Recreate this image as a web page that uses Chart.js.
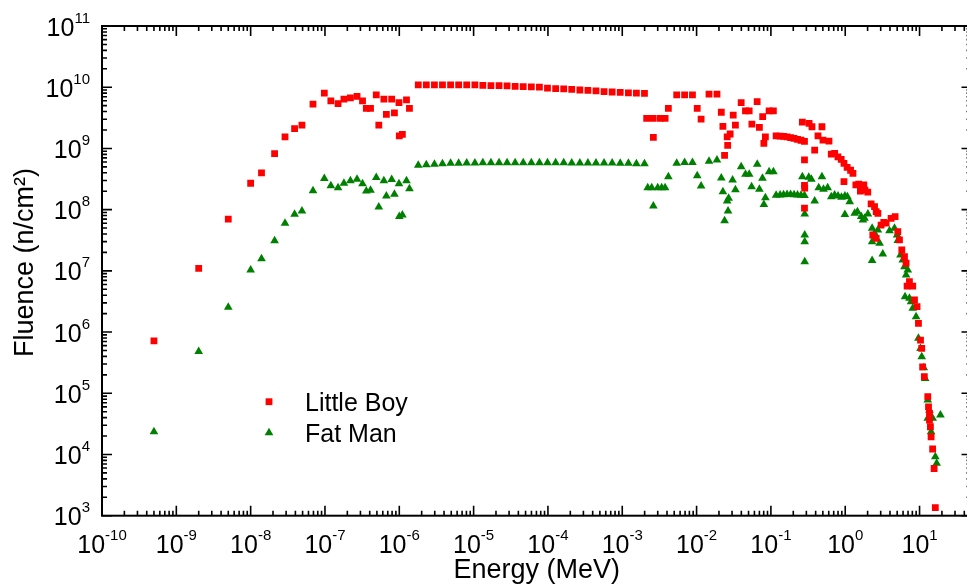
<!DOCTYPE html>
<html>
<head>
<meta charset="utf-8">
<script src="https://cdn.jsdelivr.net/npm/chart.js@4.4.1/dist/chart.umd.min.js"></script>
<style>
html,body{margin:0;padding:0;background:#fff;overflow:hidden;width:967px;height:584px;}
canvas{display:block;}
</style>
</head>
<body>
<canvas id="c" width="980" height="584"></canvas>
<script>
// ---------- data ----------
const seriesNames = ['Little Boy', 'Fat Man'];
const xTitle = 'Energy (MeV)';
const yTitle = 'Fluence (n/cm\u00B2)';
const xTickExponents = [-10, -9, -8, -7, -6, -5, -4, -3, -2, -1, 0, 1];
const yTickExponents = [3, 4, 5, 6, 7, 8, 9, 10, 11];

// Little Boy (MeV, n/cm2)
const lbEnergy = [
  5e-10, 2e-9, 5e-9, 1e-8, 1.4e-8, 2.1e-8, 2.9e-8, 3.9e-8, 4.9e-8, 6.9e-8,
  9.8e-8, 1.2e-7, 1.5e-7, 1.8e-7, 2.2e-7, 2.7e-7, 3.2e-7, 3.6e-7, 4.1e-7, 4.9e-7,
  5.3e-7, 6.2e-7, 6.7e-7, 7.9e-7, 8.6e-7, 9.9e-7, 1.0e-6, 1.1e-6, 1.25e-6, 1.37e-6,
  1.8e-6, 2.31e-6, 2.97e-6, 3.81e-6, 4.9e-6, 6.29e-6, 8.07e-6, 1.04e-5, 1.33e-5, 1.71e-5,
  2.2e-5, 2.82e-5, 3.62e-5, 4.65e-5, 5.98e-5, 7.68e-5, 9.86e-5, 1.27e-4, 1.63e-4, 2.09e-4,
  2.69e-4, 3.45e-4, 4.43e-4, 5.69e-4, 7.31e-4, 9.39e-4, 1.21e-3, 1.55e-3, 1.99e-3,
  2.13e-3, 2.6e-3, 2.62e-3, 3.23e-3, 3.77e-3, 4.17e-3, 5.4e-3, 6.9e-3, 8.8e-3,
  1.02e-2, 1.15e-2, 1.47e-2, 1.88e-2, 2.15e-2, 2.26e-2, 2.38e-2, 2.58e-2, 2.62e-2,
  2.83e-2, 3.11e-2, 3.33e-2, 3.98e-2, 4.55e-2, 5.1e-2, 5.55e-2, 6.53e-2,
  7.0e-2, 7.75e-2, 8.04e-2, 8.43e-2, 9.46e-2, 0.108,
  0.1175, 0.133, 0.148, 0.165, 0.184, 0.205, 0.228, 0.254, 0.283,
  0.265, 0.283, 0.283, 0.285, 0.283,
  0.326, 0.357, 0.388, 0.43, 0.486, 0.502, 0.604,
  0.649, 0.721, 0.798, 0.883, 0.962, 0.962, 1.06, 1.18, 1.27,
  1.39, 1.52, 1.6, 1.67, 1.78, 1.84, 2.01,
  2.23, 2.48, 2.61, 2.75, 2.35, 2.61, 3.04, 3.3, 3.55, 4.14, 4.69,
  5.1, 5.37, 5.77, 6.27, 6.59, 6.8, 7.31, 8.1, 8.55, 9.25, 9.66, 10.3,
  10.7, 11.0, 11.6, 12.9, 13.2, 13.6, 13.6, 14.0, 14.3, 15.0, 15.7, 16.3
];
const lbFluence = [
  7.2e5, 1.1e7, 7e7, 2.7e8, 4e8, 8.2e8, 1.55e9, 2.1e9, 2.4e9, 5.3e9,
  8e9, 6e9, 5.4e9, 6.4e9, 6.7e9, 7.1e9, 6e9, 4.5e9, 4.5e9, 7.5e9,
  2.4e9, 6.4e9, 3.6e9, 6.4e9, 3.8e9, 5.6e9, 1.6e9, 1.7e9, 6.2e9, 4.5e9,
  1.09e10, 1.09e10, 1.09e10, 1.09e10, 1.09e10, 1.09e10, 1.09e10, 1.09e10, 1.07e10, 1.06e10,
  1.06e10, 1.05e10, 1.035e10, 1.02e10, 1.01e10, 1.0e10, 9.7e9, 9.5e9, 9.4e9, 9.25e9,
  9.0e9, 8.9e9, 8.7e9, 8.45e9, 8.35e9, 8.25e9, 8.1e9, 8.0e9, 7.95e9,
  3.1e9, 3.1e9, 1.52e9, 3.1e9, 3.1e9, 4.5e9, 7.5e9, 7.5e9, 7.5e9,
  4.5e9, 3.0e9, 7.7e9, 7.7e9, 3.9e9, 2.3e9, 7.7e8, 1.55e9, 1.12e9,
  1.72e9, 3.5e9, 2.4e9, 5.6e9, 4.1e9, 4.1e9, 2.5e9, 5.8e9,
  2.2e9, 3.3e9, 1.21e9, 1.55e9, 4.1e9, 4.1e9,
  1.6e9, 1.59e9, 1.57e9, 1.54e9, 1.5e9, 1.46e9, 1.41e9, 1.36e9, 1.3e9,
  2.7e9, 6.5e8, 2.5e8, 2.25e8, 1.06e8,
  2.57e9, 2.26e9, 9.4e8, 1.6e9, 2.26e9, 1.37e9, 1.32e9,
  8.1e8, 8.3e8, 7.3e8, 6.6e8, 5.7e8, 2.86e8, 4.9e8, 4.4e8, 3.9e8,
  2.53e8, 2.62e8, 2.0e8, 2.25e8, 2.53e8, 2.09e8, 1.94e8,
  1.24e8, 1.12e8, 9.3e7, 8.7e7, 3.85e7, 3.4e7, 5.6e7, 6.2e7, 6.0e7, 7.2e7, 7.7e7,
  4.36e7, 3.2e7, 2.19e7, 1.7e7, 1.33e7, 5.65e6, 6.65e6, 5.65e6, 3.34e6, 2.6e6, 1.39e6, 7.4e5,
  5.4e5, 2.7e5, 1.87e5, 8.8e4, 6.0e4, 4.7e4, 3.66e4, 2.84e4, 1.95e4, 1.23e4, 5.9e3, 1.35e3
];

// Fat Man (MeV, n/cm2)
const fmEnergy = [
  5e-10, 2e-9, 5e-9, 1e-8, 1.4e-8, 2.1e-8, 2.9e-8, 3.9e-8, 4.9e-8, 6.9e-8,
  9.8e-8, 1.2e-7, 1.5e-7, 1.8e-7, 2.2e-7, 2.7e-7, 3.2e-7, 3.6e-7, 4.1e-7, 4.9e-7,
  5.3e-7, 6.2e-7, 6.7e-7, 7.9e-7, 8.6e-7, 9.9e-7, 1.0e-6, 1.1e-6, 1.25e-6, 1.37e-6,
  1.8e-6, 2.31e-6, 2.97e-6, 3.81e-6, 4.9e-6, 6.29e-6, 8.07e-6, 1.04e-5, 1.33e-5, 1.71e-5,
  2.2e-5, 2.82e-5, 3.62e-5, 4.65e-5, 5.98e-5, 7.68e-5, 9.86e-5, 1.27e-4, 1.63e-4, 2.09e-4,
  2.69e-4, 3.45e-4, 4.43e-4, 5.69e-4, 7.31e-4, 9.39e-4, 1.21e-3, 1.55e-3, 1.99e-3,
  2.2e-3, 2.49e-3, 2.62e-3, 3.0e-3, 3.39e-3, 3.77e-3, 4.17e-3, 5.4e-3, 6.9e-3, 8.8e-3,
  1.02e-2, 1.15e-2, 1.47e-2, 1.88e-2, 2.15e-2, 2.26e-2, 2.38e-2, 2.58e-2, 2.65e-2, 2.7e-2,
  3.05e-2, 3.33e-2, 3.98e-2, 4.55e-2, 5.1e-2, 5.5e-2, 6.55e-2, 7.0e-2, 7.7e-2, 8.04e-2,
  8.43e-2, 9.46e-2, 0.108,
  0.1175, 0.133, 0.148, 0.165, 0.184, 0.205, 0.228, 0.254, 0.283,
  0.265, 0.285, 0.285, 0.285, 0.285,
  0.323, 0.35, 0.388, 0.44, 0.486, 0.51, 0.58,
  0.649, 0.72, 0.8, 0.89, 0.99, 0.99, 1.07, 1.15,
  1.34, 1.46, 1.64, 1.73, 1.82, 2.02,
  2.3, 2.48, 2.75, 2.3, 2.3, 2.9, 3.2, 3.94, 4.6, 4.99, 5.1,
  5.54, 5.94, 6.27, 6.59, 6.94, 6.38, 7.31, 7.69, 8.1, 8.98, 9.66, 10.3,
  10.7, 11.4, 11.9, 12.9, 13.6, 12.9, 15.0, 14.3, 19.1, 16.3, 17.0
];
const fmFluence = [
  2.36e4, 4.8e5, 2.54e6, 1.03e7, 1.58e7, 3.1e7, 6.0e7, 8.4e7, 9.5e7, 2.04e8,
  3.23e8, 2.45e8, 2.27e8, 2.7e8, 2.97e8, 3.13e8, 2.64e8, 2.01e8, 2.08e8, 3.35e8,
  1.1e8, 2.96e8, 1.67e8, 3.1e8, 1.79e8, 2.64e8, 7.7e7, 8.2e7, 2.97e8, 2.19e8,
  5.3e8, 5.4e8, 5.5e8, 5.6e8, 5.7e8, 5.7e8, 5.8e8, 5.8e8, 5.85e8, 5.85e8,
  5.85e8, 5.85e8, 5.85e8, 5.85e8, 5.85e8, 5.85e8, 5.85e8, 5.85e8, 5.85e8, 5.8e8,
  5.8e8, 5.8e8, 5.8e8, 5.8e8, 5.8e8, 5.75e8, 5.7e8, 5.6e8, 5.6e8,
  2.28e8, 2.28e8, 1.15e8, 2.28e8, 2.28e8, 2.28e8, 3.45e8, 5.7e8, 5.9e8, 5.9e8,
  3.58e8, 2.43e8, 6.2e8, 6.5e8, 3.3e8, 1.96e8, 6.6e7, 1.38e8, 9.5e7, 1.53e8,
  3.05e8, 2.12e8, 5.0e8, 3.78e8, 3.8e8, 2.37e8, 5.5e8, 2.15e8, 3.25e8, 1.21e8,
  1.57e8, 4.17e8, 4.17e8,
  1.72e8, 1.74e8, 1.75e8, 1.76e8, 1.76e8, 1.75e8, 1.74e8, 1.72e8, 1.7e8,
  3.45e8, 8.5e7, 3.85e7, 3.0e7, 1.41e7,
  3.37e8, 3.13e8, 1.38e8, 2.28e8, 3.45e8, 2.15e8, 2.28e8,
  1.63e8, 1.73e8, 1.67e8, 1.59e8, 1.67e8, 8.3e7, 1.63e8, 1.35e8,
  8.7e7, 9.2e7, 7.7e7, 6.8e7, 7.2e7, 8.5e7,
  4.95e7, 4.1e7, 4.65e7, 3.0e7, 1.48e7, 2.82e7, 1.88e7, 4.5e7, 4.95e7, 3.85e7, 3.13e7,
  1.82e7, 1.5e7, 1.17e7, 8.55e6, 1.03e7, 3.78e6, 3.56e6, 3.13e6, 2.44e6, 1.78e6, 7.9e5, 5.4e5,
  3.95e5, 2.62e5, 1.75e5, 7.8e4, 5.3e4, 3.9e4, 3.9e4, 2.36e4, 4.4e4, 9.2e3, 7.2e3
];

// ---------- styling / drawing ----------
const FONT = '"Liberation Sans", Arial, Helvetica, sans-serif';
const RED = '#ff0000';
const GREEN = '#008000';
const toPoints = (xs, ys) => xs.map((x, i) => ({ x: x, y: ys[i] }));

function drawMarker(ctx, style, color, r, x, y) {
  ctx.save();
  ctx.fillStyle = color;
  ctx.beginPath();
  if (style === 'rect') {
    const s = Math.SQRT1_2 * r;
    ctx.rect(x - s, y - s, 2 * s, 2 * s);
  } else {
    let rad = 0;
    const T = 2 * Math.PI / 3;
    ctx.moveTo(x + Math.sin(rad) * r, y - Math.cos(rad) * r);
    rad += T; ctx.lineTo(x + Math.sin(rad) * r, y - Math.cos(rad) * r);
    rad += T; ctx.lineTo(x + Math.sin(rad) * r, y - Math.cos(rad) * r);
    ctx.closePath();
  }
  ctx.fill();
  ctx.restore();
}

const originAxes = {
  id: 'originAxes',
  afterDraw(chart) {
    const { ctx, chartArea: a, scales: { x, y } } = chart;
    ctx.save();
    ctx.strokeStyle = '#000';
    ctx.lineWidth = 1.6;
    ctx.beginPath();
    for (let e = -10; e <= 2; e++) {
      for (let m = 1; m <= 9; m++) {
        const v = m * Math.pow(10, e);
        if (v < x.min * 0.999 || v > x.max * 1.001) continue;
        const px = x.getPixelForValue(v);
        const len = m === 1 ? 10 : 5;
        ctx.moveTo(px, a.bottom); ctx.lineTo(px, a.bottom - len);
        ctx.moveTo(px, a.top); ctx.lineTo(px, a.top + len);
      }
    }
    for (let e = 3; e <= 11; e++) {
      for (let m = 1; m <= 9; m++) {
        const v = m * Math.pow(10, e);
        if (v < y.min * 0.999 || v > y.max * 1.001) continue;
        const py = y.getPixelForValue(v);
        const len = m === 1 ? 10 : 5;
        ctx.moveTo(a.left, py); ctx.lineTo(a.left + len, py);
        ctx.moveTo(a.right, py); ctx.lineTo(a.right - len, py);
      }
    }
    ctx.stroke();
    ctx.lineWidth = 2;
    ctx.strokeRect(a.left, a.top, a.right - a.left, a.bottom - a.top);

    // tick labels with superscript exponents
    ctx.fillStyle = '#000';
    ctx.textBaseline = 'alphabetic';
    ctx.textAlign = 'left';
    const big = '25px ' + FONT, small = '15px ' + FONT;
    for (const e of xTickExponents) {
      const px = x.getPixelForValue(Math.pow(10, e));
      const s = String(e);
      ctx.font = big; const w1 = ctx.measureText('10').width;
      ctx.font = small; const w2 = ctx.measureText(s).width;
      const x0 = px - (w1 + w2) / 2;
      ctx.font = big; ctx.fillText('10', x0, a.bottom + 37.5);
      ctx.font = small; ctx.fillText(s, x0 + w1, a.bottom + 24.5);
    }
    for (const e of yTickExponents) {
      const py = y.getPixelForValue(Math.pow(10, e));
      const s = String(e);
      ctx.font = big; const w1 = ctx.measureText('10').width;
      ctx.font = small; const w2 = ctx.measureText(s).width;
      const x0 = 90 - (w1 + w2);
      ctx.font = big; ctx.fillText('10', x0, py + 9.5);
      ctx.font = small; ctx.fillText(s, x0 + w1, py - 3.5);
    }

    // axis titles
    ctx.font = '27px ' + FONT;
    ctx.textAlign = 'center';
    ctx.fillText(xTitle, (a.left + a.right) / 2, 578);
    ctx.save();
    ctx.translate(33, 262.5);
    ctx.rotate(-Math.PI / 2);
    ctx.fillText(yTitle, 0, 0);
    ctx.restore();

    // legend
    const ds = chart.data.datasets;
    const legendY = [401.7, 432.7];
    ctx.font = '25px ' + FONT;
    ctx.textAlign = 'left';
    ds.forEach((d, i) => {
      drawMarker(ctx, d.pointStyle, d.backgroundColor, d.pointRadius, 269, legendY[i]);
      ctx.fillStyle = '#000';
      ctx.fillText(d.label, 305, legendY[i] + 9.3);
    });
    ctx.restore();
  }
};

new Chart(document.getElementById('c').getContext('2d'), {
  type: 'scatter',
  data: {
    datasets: [
      {
        label: seriesNames[0],
        data: toPoints(lbEnergy, lbFluence),
        pointStyle: 'rect',
        pointRadius: 4.8,
        backgroundColor: RED,
        borderColor: RED,
        borderWidth: 0
      },
      {
        label: seriesNames[1],
        data: toPoints(fmEnergy, fmFluence),
        pointStyle: 'triangle',
        pointRadius: 5,
        backgroundColor: GREEN,
        borderColor: GREEN,
        borderWidth: 0
      }
    ]
  },
  options: {
    responsive: false,
    animation: false,
    devicePixelRatio: 1,
    layout: { padding: { left: 102, top: 26, right: 8.5, bottom: 68.3 } },
    plugins: { legend: { display: false }, tooltip: { enabled: false } },
    scales: {
      x: { type: 'logarithmic', min: 1e-10, max: 50, display: false },
      y: { type: 'logarithmic', min: 1e3, max: 1e11, display: false }
    }
  },
  plugins: [originAxes]
});
</script>
</body>
</html>
